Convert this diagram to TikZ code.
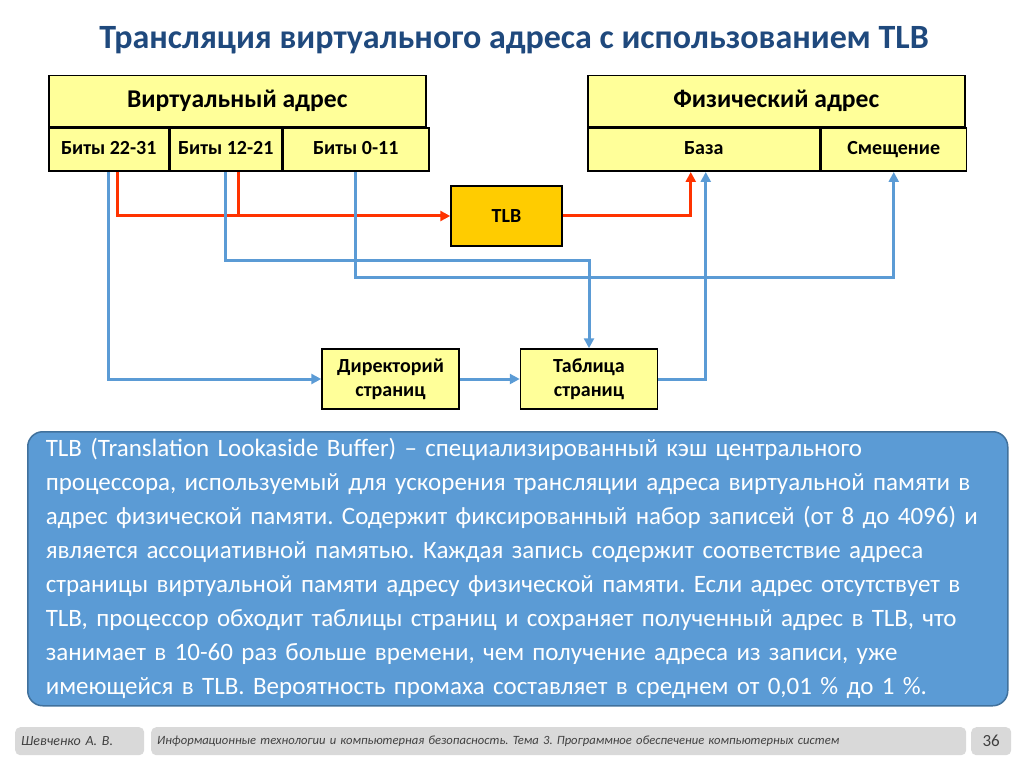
\documentclass[tikz,border=0pt]{standalone}
\usepackage{fontspec}
\setmainfont{Carlito}
\usetikzlibrary{positioning, arrows.meta}

\definecolor{boxyellow}{RGB}{255,255,153}
\definecolor{tlborange}{RGB}{255,204,0}
\definecolor{redline}{RGB}{255,51,0}
\definecolor{blueline}{RGB}{91,155,213}
\definecolor{infoblue}{RGB}{91,155,213}
\definecolor{infoborder}{RGB}{65,113,156}
\definecolor{titleblue}{RGB}{31,73,125}
\definecolor{footgray}{RGB}{217,217,217}
\definecolor{foottext}{RGB}{64,64,64}

\begin{document}
\frenchspacing
\begin{tikzpicture}[x=1pt, y=-1pt, inner sep=0pt,
    hdr/.style={draw, fill=boxyellow, line width=1.5pt, minimum height=51pt, anchor=north west,
        text height=17pt, text depth=5pt, font=\fontsize{25.6}{30}\selectfont\bfseries},
    cell/.style={draw, fill=boxyellow, line width=1.5pt, minimum height=43pt, anchor=north west,
        text height=13pt, text depth=4pt, font=\fontsize{20}{24}\selectfont\bfseries},
    unit/.style={draw, line width=1.5pt, minimum width=137pt, minimum height=60pt, align=center,
        font=\fontsize{20}{24}\selectfont\bfseries},
    redarrow/.style={draw=redline, line width=3pt, -{Triangle[length=10pt, width=10pt]}},
    blueline/.style={draw=blueline, line width=3pt},
    bluearrow/.style={blueline, -{Triangle[length=10pt, width=10pt]}},
    footbox/.style={fill=footgray, rounded corners=5pt, minimum height=28pt, anchor=north west,
        inner xsep=6pt, align=left, text=foottext}]
        \useasboundingbox (0,0) rectangle (1024,767);

        % Define the nodes
        \node[font=\fontsize{34}{40}\selectfont\bfseries, text=titleblue] (title) at (514,40)
            {Трансляция виртуального адреса с использованием TLB};

        \node[hdr, minimum width=377pt] (va) at (48,75) {Виртуальный адрес};
        \node[cell, minimum width=120pt] (b1) at (va.south west) {Биты 22-31};
        \node[cell, minimum width=111pt, right=0pt of b1] (b2) {Биты 12-21};
        \node[cell, minimum width=146pt, right=0pt of b2] (b3) {Биты 0-11};

        \node[hdr, minimum width=377pt] (pa) at (587,75) {Физический адрес};
        \node[cell, minimum width=232pt] (base) at (pa.south west) {База};
        \node[cell, minimum width=145pt, right=0pt of base] (off) {Смещение};

        \node[unit, fill=tlborange, minimum width=111pt] (tlb) at (506.5,216) {TLB};
        \node[unit, fill=boxyellow] (dir) at (390.5,379) {Директорий\\страниц};
        \node[unit, fill=boxyellow, right=60pt of dir] (tab) {Таблица\\страниц};

        \node[anchor=north west, minimum height=274pt, rounded corners=15pt, fill=infoblue,
            draw=infoborder, line width=1.5pt, text=white, align=left, text width=944pt,
            inner xsep=18pt, font=\fontsize{25}{34}\selectfont] (info) at (27,431)
            {TLB (Translation Lookaside Buffer) – специализированный кэш центрального\\
            процессора, используемый для ускорения трансляции адреса виртуальной памяти в\\
            адрес физической памяти. Содержит фиксированный набор записей (от 8 до 4096) и\\
            является ассоциативной памятью. Каждая запись содержит соответствие адреса\\
            страницы виртуальной памяти адресу физической памяти. Если адрес отсутствует в\\
            TLB, процессор обходит таблицы страниц и сохраняет полученный адрес в TLB, что\\
            занимает в 10-60 раз больше времени, чем получение адреса из записи, уже\\
            имеющейся в TLB. Вероятность промаха составляет в среднем от 0,01 \% до 1 \%.};

        \node[footbox, text width=117pt, font=\fontsize{14}{16}\selectfont\itshape] (author) at (15,727)
            {Шевченко А. В.};
        \node[footbox, text width=803pt, font=\fontsize{12.6}{14}\selectfont\itshape] (course) at (151,727)
            {Информационные технологии и компьютерная безопасность. Тема 3. Программное обеспечение компьютерных систем};
        \node[footbox, minimum width=40pt, inner xsep=0pt, font=\fontsize{17}{20}\selectfont] (page) at (971,727)
            {36};

        % Define the transitions
        \coordinate (r2) at ([xshift=12.5pt]b2.south);
        \coordinate (r3) at ([xshift=-13pt]base.south);
        \coordinate (q3) at ([xshift=2pt]base.south);
        \coordinate (lvl2) at (0,260);
        \coordinate (lvl3) at (0,277);

        \draw[redarrow] ([xshift=9pt]b1.south) |- (tlb.west);
        \draw[redarrow, -] (r2) -- (r2 |- tlb.west);
        \draw[redarrow] (tlb.east) -| (r3);

        \draw[bluearrow] (b1.south) |- (dir.west);
        \draw[bluearrow] (dir.east) -- (tab.west);
        \draw[bluearrow] (b2.south) |- (lvl2 -| tab.north) -- (tab.north);
        \draw[bluearrow] (b3.south) |- (lvl3 -| off.south) -- (off.south);
        \draw[bluearrow] (tab.east) -| (q3);

    \end{tikzpicture}
\end{document}
